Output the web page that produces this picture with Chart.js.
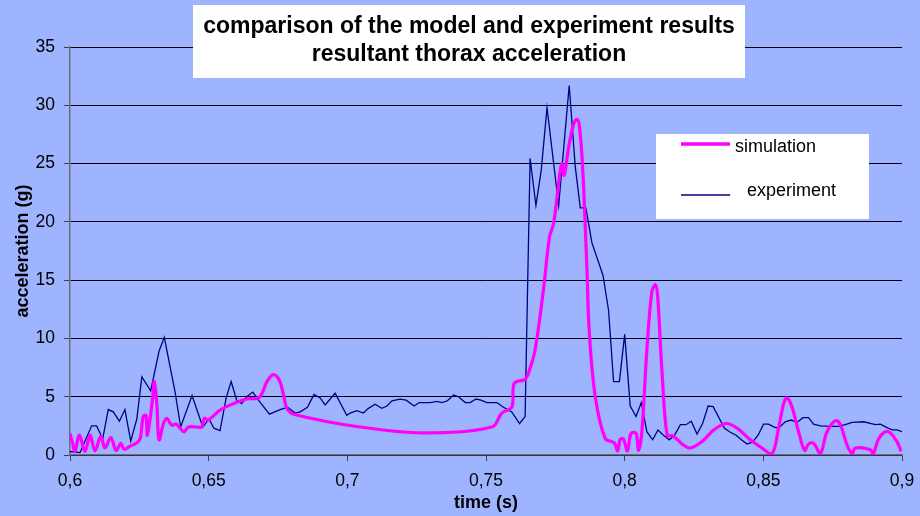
<!DOCTYPE html>
<html>
<head>
<meta charset="utf-8">
<script src="https://cdn.jsdelivr.net/npm/chart.js@4/dist/chart.umd.min.js"></script>
<style>
  html, body { margin: 0; padding: 0; background: #9EB4FF; }
  #wrap { width: 920px; height: 516px; }
  canvas { display: block; }
</style>
</head>
<body>
<div id="wrap"><canvas id="c" width="920" height="516"></canvas></div>
<script>
const chartTitle = ['comparison of the model and experiment results', 'resultant thorax acceleration'];
const xTitle = 'time (s)';
const yTitle = 'acceleration (g)';
const seriesNames = ['simulation', 'experiment'];

const simTime = [0.6000,0.6010,0.6018,0.6034,0.6054,0.6072,0.6090,0.6111,0.6126,0.6147,0.6166,0.6183,0.6195,0.6216,0.6241,0.6253,0.6264,0.6274,0.6279,0.6298,0.6304,0.6313,0.6321,0.6337,0.6349,0.6367,0.6382,0.6397,0.6411,0.6427,0.6459,0.6475,0.6485,0.6499,0.6541,0.6589,0.6637,0.6683,0.6710,0.6733,0.6755,0.6770,0.6782,0.6806,0.7046,0.7273,0.7521,0.7557,0.7593,0.7602,0.7641,0.7657,0.7677,0.7707,0.7729,0.7744,0.7768,0.7774,0.7782,0.7798,0.7816,0.7828,0.7837,0.7849,0.7864,0.7872,0.7894,0.7930,0.7962,0.7975,0.7984,0.7996,0.8010,0.8023,0.8041,0.8050,0.8062,0.8080,0.8098,0.8111,0.8119,0.8135,0.8153,0.8171,0.8191,0.8212,0.8237,0.8279,0.8321,0.8367,0.8405,0.8453,0.8495,0.8531,0.8555,0.8573,0.8585,0.8603,0.8627,0.8649,0.8663,0.8681,0.8706,0.8727,0.8748,0.8763,0.8778,0.8802,0.8820,0.8832,0.8886,0.8896,0.8916,0.8940,0.8958,0.8982,0.8997];
const simAccel = [1.85,0.95,0.3,1.7,0.3,1.7,0.35,1.6,0.6,1.5,0.4,1.0,0.5,0.75,1.05,1.4,3.3,3.4,1.7,4.85,6.3,4.4,1.3,2.7,3.15,2.55,2.65,2.3,2.0,2.4,2.4,2.4,3.15,3.0,3.85,4.4,4.8,4.95,6.3,6.9,6.4,5.15,4.0,3.5,2.4,1.9,2.4,3.6,4.1,6.15,6.5,7.3,9.0,14.15,18.7,19.9,24.4,25.0,24.0,26.4,28.4,28.8,28.2,24.4,15.9,10.7,5.0,1.4,1.05,0.35,1.35,1.35,0.35,1.85,1.85,0.4,2.0,9.0,14.0,14.6,13.6,7.0,1.7,1.65,1.3,0.85,0.6,1.15,2.15,2.7,2.3,1.3,0.6,0.1,2.3,4.4,4.9,4.15,2.0,0.4,0.95,1.0,0.15,1.85,2.7,2.95,2.6,0.85,0.15,0.6,0.45,0.1,1.4,2.0,1.9,1.15,0.3];

const expTime = [0.6000,0.6036,0.6078,0.6096,0.6118,0.6138,0.6156,0.6178,0.6198,0.6219,0.6241,0.6259,0.6291,0.6321,0.6340,0.6379,0.6399,0.6440,0.6479,0.6501,0.6519,0.6541,0.6563,0.6581,0.6601,0.6619,0.6637,0.6659,0.6683,0.6719,0.6758,0.6784,0.6812,0.6830,0.6856,0.6880,0.6902,0.6920,0.6956,0.6998,0.7010,0.7034,0.7058,0.7076,0.7100,0.7124,0.7143,0.7161,0.7190,0.7212,0.7241,0.7259,0.7299,0.7323,0.7341,0.7361,0.7383,0.7401,0.7425,0.7443,0.7464,0.7482,0.7503,0.7539,0.7563,0.7593,0.7621,0.7641,0.7659,0.7680,0.7699,0.7720,0.7762,0.7800,0.7822,0.7840,0.7860,0.7882,0.7922,0.7942,0.7960,0.7981,0.8000,0.8020,0.8041,0.8060,0.8080,0.8101,0.8120,0.8140,0.8161,0.8180,0.8201,0.8221,0.8240,0.8261,0.8281,0.8301,0.8319,0.8341,0.8360,0.8381,0.8402,0.8421,0.8441,0.8461,0.8481,0.8501,0.8519,0.8539,0.8555,0.8579,0.8600,0.8622,0.8643,0.8663,0.8681,0.8706,0.8742,0.8768,0.8796,0.8820,0.8862,0.8904,0.8922,0.8946,0.8964,0.8982,0.9000];
const expAccel = [0.3,0.2,2.5,2.5,1.4,3.9,3.7,2.9,3.9,1.2,3.1,6.7,5.5,8.9,10.1,5.4,2.4,5.1,2.4,3.1,2.3,2.1,4.9,6.3,4.7,4.4,5.0,5.4,4.6,3.5,3.9,4.1,3.6,3.7,4.1,5.2,4.9,4.3,5.3,3.4,3.6,3.8,3.6,4.0,4.35,4.0,4.2,4.65,4.8,4.7,4.2,4.5,4.5,4.6,4.5,4.65,5.15,5.0,4.5,4.5,4.8,4.7,4.5,4.5,4.1,3.7,2.7,3.3,25.45,21.4,24.4,29.8,21.4,31.7,24.7,21.2,21.2,18.2,15.4,12.4,6.3,6.3,10.35,4.2,3.3,4.5,2.0,1.3,2.15,1.7,1.3,1.7,2.6,2.6,2.9,1.8,2.7,4.2,4.15,3.15,2.3,1.95,1.7,1.3,0.95,1.1,1.7,2.65,2.65,2.4,2.3,2.85,3.0,2.8,3.2,3.2,2.65,2.5,2.45,2.45,2.6,2.8,2.85,2.6,2.65,2.35,2.15,2.15,2.0];

const FONT = "Arial, 'Liberation Sans', Helvetica, sans-serif";

const overlay = {
  id: 'overlay',
  beforeDraw(chart) {
    const ctx = chart.ctx;
    ctx.save();
    ctx.fillStyle = '#9EB4FF';
    ctx.fillRect(0, 0, chart.width, chart.height);
    ctx.restore();
  },
  afterDraw(chart) {
    const ctx = chart.ctx;
    ctx.save();
    // title box
    ctx.fillStyle = '#ffffff';
    ctx.fillRect(193, 5, 552, 73);
    ctx.fillStyle = '#000000';
    ctx.font = 'bold 23px ' + FONT;
    ctx.textAlign = 'center';
    ctx.textBaseline = 'middle';
    ctx.fillText(chartTitle[0], 469, 27);
    ctx.fillText(chartTitle[1], 469, 55);
    // legend box
    ctx.fillStyle = '#ffffff';
    ctx.fillRect(656, 134, 213, 85);
    ctx.strokeStyle = '#FF00FF';
    ctx.lineWidth = 3.5;
    ctx.beginPath(); ctx.moveTo(681, 144); ctx.lineTo(730, 144); ctx.stroke();
    ctx.strokeStyle = '#000080';
    ctx.lineWidth = 1.5;
    ctx.beginPath(); ctx.moveTo(681, 195); ctx.lineTo(730, 195); ctx.stroke();
    ctx.fillStyle = '#000000';
    ctx.font = '18px ' + FONT;
    ctx.textAlign = 'left';
    ctx.fillText(seriesNames[0], 735, 147);
    ctx.fillText(seriesNames[1], 747, 191);
    ctx.restore();
  }
};

const toPts = (ts, vs) => ts.map((t, i) => ({ x: t, y: vs[i] }));

new Chart(document.getElementById('c'), {
  type: 'line',
  data: {
    datasets: [
      {
        label: seriesNames[1],
        data: toPts(expTime, expAccel),
        borderColor: '#000080',
        borderWidth: 1.3,
        pointRadius: 0,
        tension: 0,
        order: 2
      },
      {
        label: seriesNames[0],
        data: toPts(simTime, simAccel),
        borderColor: '#FF00FF',
        borderWidth: 3.2,
        pointRadius: 0,
        tension: 0.35,
        order: 1
      }
    ]
  },
  options: {
    responsive: false,
    animation: false,
    devicePixelRatio: 1,
    layout: { padding: { top: 47, right: 18, left: 0, bottom: 0 } },
    plugins: { legend: { display: false }, tooltip: { enabled: false }, title: { display: false } },
    scales: {
      x: {
        type: 'linear',
        min: 0.6,
        max: 0.9,
        ticks: {
          stepSize: 0.05,
          color: '#000',
          font: { size: 17.5, family: FONT },
          padding: 10,
          maxRotation: 0,
          callback: v => Number(v.toFixed(2)).toString().replace('.', ',')
        },
        grid: { drawOnChartArea: false, drawTicks: true, tickLength: 6, tickColor: '#404040', lineWidth: 1 },
        border: { color: '#6a6a7a', width: 1.5 },
        title: { display: true, text: xTitle, color: '#000', font: { size: 18, weight: 'bold', family: FONT }, padding: { top: 0, bottom: 2 } },
        afterFit(s) { s.height = 61; s.paddingLeft = 0; s.paddingRight = 0; }
      },
      y: {
        min: 0,
        max: 35,
        ticks: { stepSize: 5, color: '#000', font: { size: 17.5, family: FONT }, padding: 9 },
        grid: { color: '#000', lineWidth: 1, tickLength: 6, tickColor: '#404040' },
        border: { color: '#6a6a7a', width: 1.5 },
        title: { display: true, text: yTitle, color: '#000', font: { size: 18, weight: 'bold', family: FONT }, padding: { top: 12, bottom: 0 } },
        afterFit(s) { s.width = 70; s.paddingTop = 0; s.paddingBottom = 0; }
      }
    }
  },
  plugins: [overlay]
});
</script>
</body>
</html>
